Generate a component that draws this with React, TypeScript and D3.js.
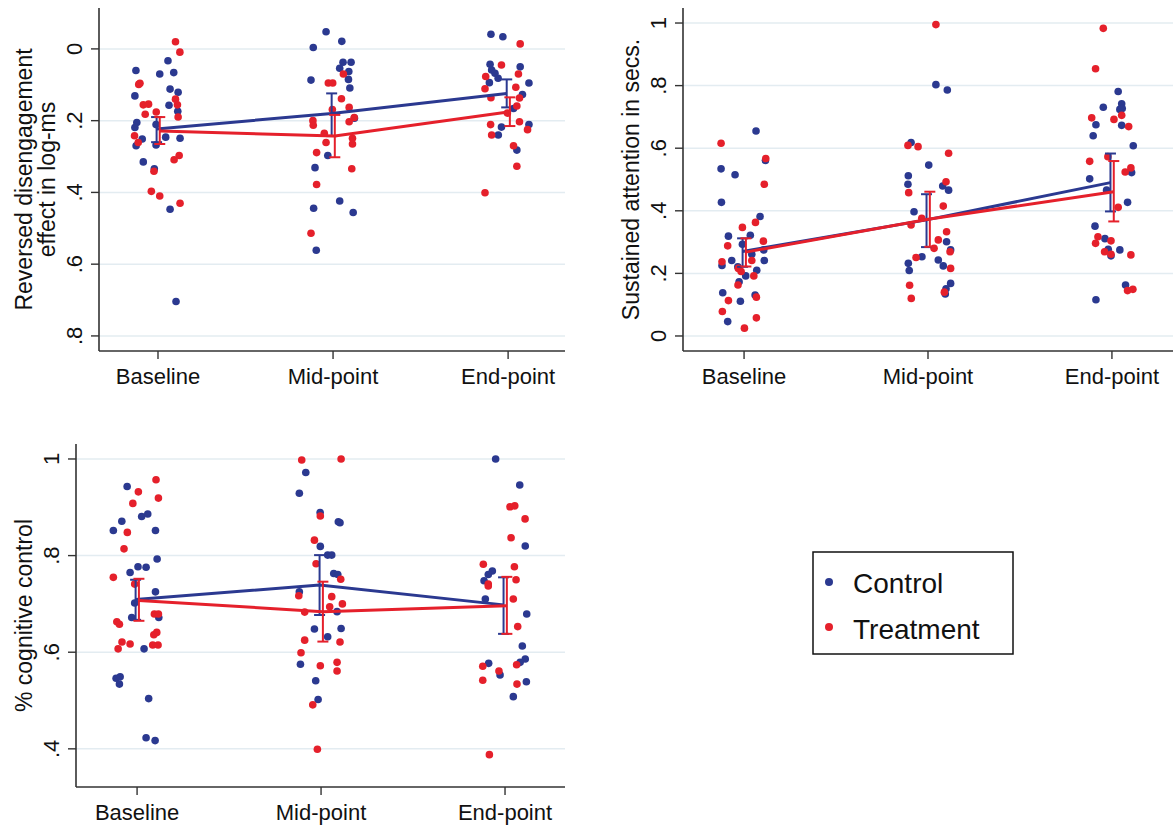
import React from 'react';
import * as d3 from 'd3';

type Pt = [number, number]; // [jittered time, value]

const timepoints = ['Baseline', 'Mid-point', 'End-point'];
const groups = ['Control', 'Treatment'];

// --- Reversed disengagement effect (log-ms) ---
const disengageControl: Pt[] = [
  [0.874, 0.060], [1.010, 0.070], [1.057, 0.033], [1.090, 0.066], [0.868, 0.131], [1.069, 0.112],
  [1.115, 0.121], [1.063, 0.157], [1.113, 0.174], [0.879, 0.205], [0.868, 0.219], [0.989, 0.211],
  [0.910, 0.251], [1.044, 0.246], [1.126, 0.249], [0.875, 0.270], [0.989, 0.268], [0.916, 0.315],
  [0.979, 0.334], [1.069, 0.447], [1.103, 0.704],
  [1.960, -0.048], [1.887, -0.004], [2.050, -0.021], [2.057, 0.037], [2.103, 0.037], [2.038, 0.054],
  [2.090, 0.063], [2.088, 0.085], [2.096, 0.109], [1.874, 0.087], [1.970, 0.297], [1.897, 0.331],
  [2.122, 0.193], [1.889, 0.444], [2.038, 0.424], [2.115, 0.456], [1.904, 0.561],
  [2.902, -0.041], [2.970, -0.034], [2.897, 0.043], [2.906, 0.059], [2.925, 0.068], [2.943, 0.082],
  [2.893, 0.094], [3.069, 0.050], [3.119, 0.095], [3.082, 0.127], [3.031, 0.166], [2.962, 0.218],
  [2.944, 0.240], [3.119, 0.211], [3.050, 0.282],
];
const disengageTreatment: Pt[] = [
  [1.100, -0.020], [1.125, 0.009], [0.897, 0.096], [0.890, 0.099], [0.916, 0.156], [0.946, 0.154],
  [1.100, 0.140], [1.111, 0.156], [0.927, 0.182], [0.990, 0.176], [1.115, 0.190], [0.866, 0.242],
  [0.887, 0.261], [1.092, 0.309], [1.121, 0.297], [0.977, 0.341], [0.962, 0.397], [1.010, 0.410],
  [1.126, 0.430],
  [2.059, 0.070], [1.973, 0.095], [1.998, 0.095], [2.048, 0.139], [1.996, 0.169], [2.092, 0.163],
  [1.885, 0.200], [1.887, 0.213], [2.092, 0.203], [2.121, 0.191], [1.950, 0.235], [1.960, 0.261],
  [2.111, 0.249], [2.111, 0.265], [1.906, 0.289], [2.107, 0.334], [1.906, 0.378], [1.874, 0.514],
  [3.069, -0.014], [2.962, 0.045], [2.872, 0.077], [2.868, 0.111], [2.902, 0.136], [3.059, 0.070],
  [3.044, 0.107], [3.065, 0.137], [3.050, 0.159], [2.996, 0.179], [3.065, 0.203], [2.900, 0.211],
  [2.906, 0.240], [3.111, 0.225], [3.031, 0.270], [3.050, 0.327], [2.868, 0.401],
];
const disengageCtlMean = [0.223, 0.180, 0.124];
const disengageCtlLo = [0.190, 0.124, 0.085];
const disengageCtlHi = [0.260, 0.243, 0.163];
const disengageTrtMean = [0.229, 0.243, 0.175];
const disengageTrtLo = [0.190, 0.184, 0.135];
const disengageTrtHi = [0.265, 0.302, 0.215];

// --- Sustained attention (secs) ---
const attentionControl: Pt[] = [
  [1.065, 0.655], [0.875, 0.534], [0.951, 0.515], [1.116, 0.561], [0.877, 0.427], [1.087, 0.382],
  [0.915, 0.319], [1.034, 0.322], [0.991, 0.293], [1.107, 0.275], [0.933, 0.241], [0.880, 0.225],
  [1.042, 0.261], [1.110, 0.241], [1.069, 0.210], [1.009, 0.192], [0.973, 0.173], [0.884, 0.138],
  [0.980, 0.111], [1.060, 0.131], [0.911, 0.046], [0.966, 0.221],
  [1.908, 0.618], [1.893, 0.512], [1.891, 0.485], [1.924, 0.397], [1.893, 0.232], [1.898, 0.209],
  [2.004, 0.546], [2.043, 0.803], [2.105, 0.786], [2.080, 0.479], [2.112, 0.466], [2.101, 0.301],
  [2.123, 0.275], [1.967, 0.253], [2.056, 0.243], [2.083, 0.224], [2.123, 0.168], [2.098, 0.151],
  [2.094, 0.134],
  [3.034, 0.781], [2.953, 0.731], [3.053, 0.742], [3.043, 0.724], [3.056, 0.727], [2.913, 0.675],
  [3.053, 0.673], [2.898, 0.640], [3.116, 0.608], [2.879, 0.502], [3.107, 0.522], [2.971, 0.466],
  [3.085, 0.427], [2.908, 0.351], [2.962, 0.311], [2.980, 0.277], [3.043, 0.275], [2.995, 0.256],
  [3.074, 0.163], [2.913, 0.116],
];
const attentionTreatment: Pt[] = [
  [0.875, 0.616], [1.118, 0.567], [1.110, 0.485], [1.062, 0.363], [0.991, 0.347], [0.911, 0.288],
  [1.105, 0.303], [0.880, 0.237], [1.042, 0.241], [0.969, 0.216], [0.984, 0.206], [1.053, 0.192],
  [0.967, 0.163], [0.915, 0.113], [1.067, 0.124], [0.882, 0.078], [1.067, 0.058], [1.002, 0.025],
  [1.891, 0.609], [1.946, 0.605], [1.895, 0.458], [1.908, 0.355], [1.935, 0.251], [1.900, 0.162],
  [1.909, 0.120], [2.043, 0.995], [2.112, 0.584], [2.098, 0.493], [2.083, 0.415], [1.966, 0.376],
  [2.101, 0.333], [2.056, 0.307], [2.033, 0.280], [2.120, 0.269], [2.123, 0.216], [2.089, 0.140],
  [2.953, 0.983], [2.911, 0.854], [2.890, 0.697], [3.011, 0.692], [3.053, 0.705], [3.091, 0.669],
  [2.879, 0.558], [2.978, 0.573], [3.103, 0.537], [3.072, 0.524], [3.034, 0.411], [2.924, 0.317],
  [2.911, 0.296], [2.995, 0.304], [2.960, 0.269], [2.995, 0.261], [3.103, 0.259], [3.085, 0.145],
  [3.114, 0.149],
];
const attentionCtlMean = [0.270, 0.371, 0.490];
const attentionCtlLo = [0.221, 0.284, 0.398];
const attentionCtlHi = [0.312, 0.453, 0.583];
const attentionTrtMean = [0.268, 0.374, 0.461];
const attentionTrtLo = [0.222, 0.285, 0.366];
const attentionTrtHi = [0.312, 0.461, 0.559];

// --- % cognitive control ---
const cognitiveControl: Pt[] = [
  [0.946, 0.943], [0.917, 0.871], [0.871, 0.852], [1.025, 0.881], [1.058, 0.886], [1.100, 0.852],
  [1.109, 0.793], [1.005, 0.777], [1.049, 0.776], [0.962, 0.765], [1.100, 0.725], [0.987, 0.702],
  [0.971, 0.672], [1.118, 0.672], [1.038, 0.607], [0.886, 0.546], [0.908, 0.549], [0.904, 0.534],
  [1.063, 0.504], [1.049, 0.423], [1.098, 0.417],
  [1.917, 0.972], [1.882, 0.929], [1.995, 0.889], [2.094, 0.870], [2.103, 0.868], [1.996, 0.819],
  [2.036, 0.801], [2.058, 0.801], [2.069, 0.763], [2.091, 0.761], [1.882, 0.725], [2.087, 0.684],
  [1.964, 0.648], [2.109, 0.649], [2.036, 0.632], [1.888, 0.575], [1.971, 0.541], [1.984, 0.502],
  [2.949, 1.000], [3.080, 0.946], [3.110, 0.820], [2.931, 0.768], [2.909, 0.761], [2.886, 0.748],
  [2.893, 0.710], [3.118, 0.679], [3.094, 0.613], [3.110, 0.586], [3.082, 0.579], [2.911, 0.577],
  [2.973, 0.553], [3.116, 0.539], [3.045, 0.508],
];
const cognitiveTreatment: Pt[] = [
  [1.103, 0.957], [1.007, 0.932], [1.116, 0.919], [0.977, 0.908], [0.947, 0.848], [0.929, 0.814],
  [0.871, 0.755], [0.987, 0.741], [1.094, 0.679], [1.116, 0.679], [0.890, 0.663], [0.904, 0.658],
  [1.107, 0.641], [1.091, 0.636], [0.918, 0.621], [0.962, 0.617], [0.897, 0.607], [1.085, 0.615],
  [1.114, 0.615],
  [1.895, 0.998], [2.109, 1.000], [1.996, 0.882], [1.964, 0.832], [1.973, 0.783], [2.107, 0.751],
  [2.058, 0.715], [1.879, 0.717], [2.047, 0.694], [2.116, 0.700], [1.911, 0.683], [1.911, 0.625],
  [2.103, 0.621], [1.891, 0.599], [1.996, 0.572], [2.087, 0.579], [2.087, 0.561], [1.955, 0.491],
  [1.980, 0.399],
  [3.027, 0.901], [3.053, 0.903], [3.109, 0.876], [3.033, 0.837], [2.882, 0.782], [3.051, 0.777],
  [3.060, 0.750], [2.909, 0.741], [2.909, 0.737], [3.045, 0.710], [3.069, 0.653], [2.879, 0.571],
  [2.967, 0.561], [3.063, 0.574], [2.879, 0.542], [3.065, 0.534], [2.915, 0.388],
];
const cognitiveCtlMean = [0.709, 0.739, 0.698];
const cognitiveCtlLo = [0.667, 0.677, 0.638];
const cognitiveCtlHi = [0.750, 0.801, 0.755];
const cognitiveTrtMean = [0.707, 0.684, 0.696];
const cognitiveTrtLo = [0.665, 0.622, 0.638];
const cognitiveTrtHi = [0.752, 0.746, 0.756];

const BLUE = '#2b3990';
const RED = '#e5202b';
const GRID = '#e3ecf1';
const AXIS = '#333';
const FONT = '"Liberation Sans", Arial, Helvetica, sans-serif';

// small horizontal dodge of group means around each timepoint
const dodge = [-0.008, 0.01];

const fmt = (d: number) => (d === 0 ? '0' : d === 1 ? '1' : String(+d.toFixed(2)).replace(/^0\./, '.'));

interface Series {
  pts: Pt[];
  mean: number[];
  lo: number[];
  hi: number[];
  color: string;
}

interface PanelProps {
  left: number;
  right: number;
  top: number;
  bottom: number;
  xDomain: [number, number];
  yDomain: [number, number]; // [value at top, value at bottom]
  yTicks: number[];
  title: string[];
  series: Series[];
}

function Panel({ left, right, top, bottom, xDomain, yDomain, yTicks, title, series }: PanelProps) {
  const x = d3.scaleLinear().domain(xDomain).range([left, right]);
  const y = d3.scaleLinear().domain(yDomain).range([top, bottom]);
  const midY = (top + bottom) / 2;

  return (
    <g>
      {/* gridlines */}
      {yTicks.map((t) => (
        <line key={'g' + t} x1={left} x2={right} y1={y(t)} y2={y(t)} stroke={GRID} strokeWidth={1.5} />
      ))}

      {/* axes */}
      <line x1={left} x2={left} y1={top} y2={bottom} stroke={AXIS} strokeWidth={1.6} />
      <line x1={left} x2={right} y1={bottom} y2={bottom} stroke={AXIS} strokeWidth={1.6} />
      {yTicks.map((t) => (
        <g key={'t' + t}>
          <line x1={left - 8} x2={left} y1={y(t)} y2={y(t)} stroke={AXIS} strokeWidth={1.4} />
          <text
            transform={`translate(${left - 17},${y(t)}) rotate(-90)`}
            textAnchor="middle"
            fontSize={22}
            fontFamily={FONT}
            fill="#111"
          >
            {fmt(t)}
          </text>
        </g>
      ))}
      {timepoints.map((lab, i) => (
        <g key={lab}>
          <line x1={x(i + 1)} x2={x(i + 1)} y1={bottom} y2={bottom + 8} stroke={AXIS} strokeWidth={1.4} />
          <text x={x(i + 1)} y={bottom + 33} textAnchor="middle" fontSize={22} fontFamily={FONT} fill="#111">
            {lab}
          </text>
        </g>
      ))}

      {/* y title */}
      {title.map((t, i) => (
        <text
          key={t}
          transform={`translate(${left - 44 - (title.length - 1 - i) * 23},${midY}) rotate(-90)`}
          textAnchor="middle"
          fontSize={23}
          fontFamily={FONT}
          fill="#111"
        >
          {t}
        </text>
      ))}

      {/* jittered observations */}
      {series.map((s, si) => (
        <g key={'p' + si}>
          {s.pts.map((p, j) => (
            <circle key={j} cx={x(p[0])} cy={y(p[1])} r={3.8} fill={s.color} />
          ))}
        </g>
      ))}

      {/* means and 95% CIs */}
      {series.map((s, si) => {
        const xs = s.mean.map((_, i) => x(i + 1 + dodge[si]));
        const path = d3
          .line<number>()
          .x((_, i) => xs[i])
          .y((d) => y(d))(s.mean);
        return (
          <g key={'m' + si}>
            <path d={path ?? ''} fill="none" stroke={s.color} strokeWidth={3} />
            {s.mean.map((_, i) => (
              <g key={i} stroke={s.color} strokeWidth={2}>
                <line x1={xs[i]} x2={xs[i]} y1={y(s.lo[i])} y2={y(s.hi[i])} />
                <line x1={xs[i] - 5.5} x2={xs[i] + 5.5} y1={y(s.lo[i])} y2={y(s.lo[i])} />
                <line x1={xs[i] - 5.5} x2={xs[i] + 5.5} y1={y(s.hi[i])} y2={y(s.hi[i])} />
              </g>
            ))}
          </g>
        );
      })}
    </g>
  );
}

function Legend({ x0, y0 }: { x0: number; y0: number }) {
  const colors = [BLUE, RED];
  return (
    <g>
      <rect x={x0} y={y0} width={200} height={102} fill="#fff" stroke="#111" strokeWidth={1.5} />
      {groups.map((g, i) => (
        <g key={g}>
          <circle cx={x0 + 16} cy={y0 + 30 + i * 45} r={4} fill={colors[i]} />
          <text x={x0 + 40} y={y0 + 41 + i * 46} fontSize={28} fontFamily={FONT} fill="#111">
            {g}
          </text>
        </g>
      ))}
    </g>
  );
}

export default function App() {
  return (
    <svg
      width={1175}
      height={826}
      style={{ position: 'absolute', left: 0, top: 0, background: '#fff' }}
    >
      <Panel
        left={99}
        right={565}
        top={8}
        bottom={351}
        xDomain={[0.663, 3.325]}
        yDomain={[-0.114, 0.842]}
        yTicks={[0, 0.2, 0.4, 0.6, 0.8]}
        title={['Reversed disengagement', 'effect in log-ms']}
        series={[
          { pts: disengageControl, mean: disengageCtlMean, lo: disengageCtlLo, hi: disengageCtlHi, color: BLUE },
          { pts: disengageTreatment, mean: disengageTrtMean, lo: disengageTrtLo, hi: disengageTrtHi, color: RED },
        ]}
      />
      <Panel
        left={683}
        right={1173}
        top={8}
        bottom={351}
        xDomain={[0.668, 3.332]}
        yDomain={[1.048, -0.048]}
        yTicks={[0, 0.2, 0.4, 0.6, 0.8, 1]}
        title={['Sustained attention in secs.']}
        series={[
          { pts: attentionControl, mean: attentionCtlMean, lo: attentionCtlLo, hi: attentionCtlHi, color: BLUE },
          { pts: attentionTreatment, mean: attentionTrtMean, lo: attentionTrtLo, hi: attentionTrtHi, color: RED },
        ]}
      />
      <Panel
        left={76}
        right={565}
        top={444}
        bottom={787}
        xDomain={[0.668, 3.326]}
        yDomain={[1.031, 0.321]}
        yTicks={[0.4, 0.6, 0.8, 1]}
        title={['% cognitive control']}
        series={[
          { pts: cognitiveControl, mean: cognitiveCtlMean, lo: cognitiveCtlLo, hi: cognitiveCtlHi, color: BLUE },
          { pts: cognitiveTreatment, mean: cognitiveTrtMean, lo: cognitiveTrtLo, hi: cognitiveTrtHi, color: RED },
        ]}
      />
      <Legend x0={813} y0={552} />
    </svg>
  );
}
